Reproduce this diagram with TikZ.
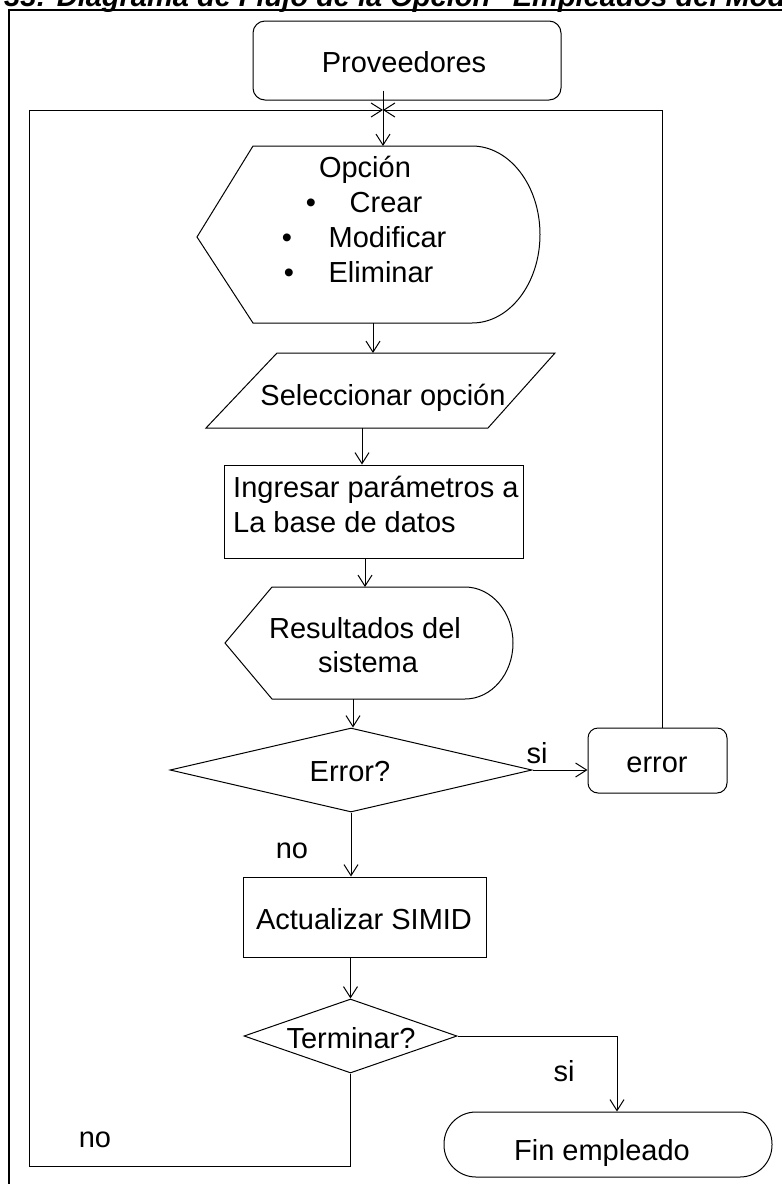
\documentclass[tikz,border=0pt]{standalone}
\usepackage{fontspec}
\setmainfont{Liberation Sans}
\usetikzlibrary{arrows.meta,shapes.geometric}
\begin{document}
\begin{tikzpicture}[x=1pt,y=-1pt,
  txt/.style={font=\fontsize{29}{35}\selectfont, inner sep=0pt, anchor=base},
  ln/.style={line width=1pt, black},
  arr/.style={line width=1pt, black, -{Straight Barb[length=11pt,width=14pt]}},
  shp/.style={draw, line width=1pt, inner sep=0pt}]
\useasboundingbox (0,0) rectangle (782,1184);
\clip (0,0) rectangle (782,1184);

% title (cut by the page edge) and frame
\node[txt, anchor=base west, font=\fontsize{29}{35}\selectfont\bfseries\itshape] (title) at (4,6) {33: Diagrama de Flujo de la Opción "Empleados del Modulo"};
\draw[line width=2.5pt] (9,1200) -- (9,10) -- (800,10);

% Proveedores
\node[shp, rounded corners=12pt, minimum width=308pt, minimum height=79pt] (prov) at (407,60.5) {};
\node[txt] (provt) at (404,72) {Proveedores};

% Opcion (display shape)
\draw[ln] (197,237) -- (253,146) -- (472,146) arc[start angle=90, end angle=-90, x radius=68pt, y radius=88.5pt] -- (253,323) -- cycle;
\coordinate (opcN) at (383,146);
\coordinate (opcS) at (373,323);
\node[txt] (opct) at (365,177) {Opción};
\node[txt] (b1) at (311,212) {•};
\node[txt] (c1) at (386,212) {Crear};
\node[txt] (b2) at (287,247) {•};
\node[txt] (c2) at (387.5,247) {Modificar};
\node[txt] (b3) at (289,282) {•};
\node[txt] (c3) at (381,282) {Eliminar};

% Seleccionar opcion (parallelogram)
\draw[ln] (277,353) -- (555,353) -- (488,428) -- (206,428) -- cycle;
\coordinate (selN) at (373,353);
\coordinate (selS) at (362,428);
\node[txt] (selt) at (383,405) {Seleccionar opción};

% Ingresar
\node[shp, minimum width=299pt, minimum height=93pt] (ing) at (373.5,511.5) {};
\node[txt, anchor=base west] (ingt1) at (233,497) {Ingresar parámetros a};
\node[txt, anchor=base west] (ingt2) at (233,532) {La base de datos};

% Resultados (display shape)
\draw[ln] (225,643) -- (272,587) -- (465,587) arc[start angle=90, end angle=-90, x radius=48pt, y radius=56pt] -- (272,699) -- cycle;
\coordinate (resN) at (365,587);
\coordinate (resS) at (353,699);
\node[txt] (rest1) at (365,638) {Resultados del};
\node[txt] (rest2) at (368,672) {sistema};

% Error?
\node[shp, diamond, minimum width=362pt, minimum height=84pt] (err) at (351,770) {};
\node[txt] (errt) at (350,781) {Error?};
\node[shp, rounded corners=10pt, minimum width=139pt, minimum height=65pt] (errb) at (657.5,760.5) {};
\node[txt] (errbt) at (657,772) {error};
\node[txt] (si1) at (537,763) {si};
\node[txt] (no1) at (292,858) {no};

% Actualizar
\node[shp, minimum width=243pt, minimum height=80pt] (act) at (364.5,917) {};
\node[txt] (actt) at (364,929) {Actualizar SIMID};

% Terminar?
\node[shp, diamond, minimum width=213pt, minimum height=74pt] (term) at (350.5,1036) {};
\node[txt] (termt) at (351,1048) {Terminar?};
\node[txt] (si2) at (564,1081) {si};
\node[txt] (no2) at (95,1147) {no};

% Fin empleado
\node[shp, rounded corners=32pt, minimum width=328pt, minimum height=65pt] (fin) at (608,1144.5) {};
\node[txt] (fint) at (602,1160) {Fin empleado};

% loop coordinates
\coordinate (merge) at (383,110);
\coordinate (loopTR) at (662,110);
\coordinate (loopTL) at (29,110);
\coordinate (loopBL) at (29,1166);
\coordinate (tr) at (617,1036);
\path (prov.south -| opcN) ++(0,-10) coordinate (provIn);

% connectors
\draw[arr] (provIn) -- (opcN);
\draw[arr] (opcS) -- (selN);
\draw[arr] (selS) -- (selS |- ing.north);
\draw[arr] (ing.south -| resN) -- (resN);
\draw[arr] (resS) -- (resS |- err.north);
\draw[arr] (err.east) -- (err.east -| errb.west);
\draw[arr] (errb.north -| loopTR) -- (loopTR) -- (merge);
\draw[arr] (err.south) -- (err.south |- act.north);
\draw[arr] (act.south -| term.north) -- (term.north);
\draw[arr] (term.east) -- (tr) -- (tr |- fin.north);
\draw[arr] (term.south) -- (term.south |- loopBL) -- (loopBL) -- (loopTL) -- (merge);
\end{tikzpicture}
\end{document}
